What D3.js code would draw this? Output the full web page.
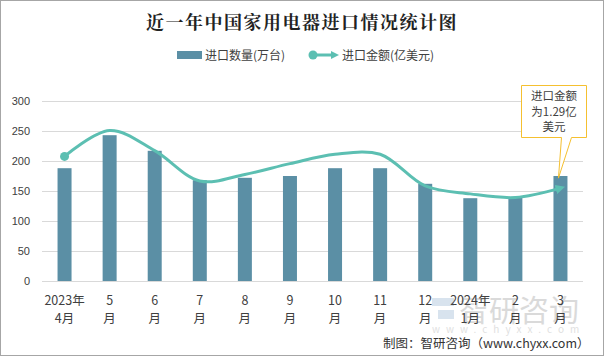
<!DOCTYPE html>
<html><head><meta charset="utf-8">
<script src="https://cdn.jsdelivr.net/npm/d3@7"></script>
<style>
body{margin:0;padding:0;background:#fff;}
svg{display:block;font-family:"Noto Sans CJK SC","Microsoft YaHei",sans-serif;}
</style></head>
<body><svg id="c" width="604" height="356"></svg>
<script>
const categories = ["2023年\n4月","5\n月","6\n月","7\n月","8\n月","9\n月","10\n月","11\n月","12\n月","2024年\n1月","2\n月","3\n月"];
const quantity = [188, 243, 217, 168, 172, 175, 188, 188, 162, 138, 139, 175];   // 进口数量(万台)
const amount = [1.73, 2.09, 1.81, 1.39, 1.48, 1.63, 1.76, 1.76, 1.32, 1.21, 1.16, 1.29]; // 进口金额(亿美元)
const yTicks = [0, 50, 100, 150, 200, 250, 300];

const svg = d3.select("#c");
const W = 604, H = 356;
const m = {left: 42, right: 21, top: 101, bottom: 75};
const barColor = "#5b8fa5", lineColor = "#5cbfb2";

// border
svg.append("rect").attr("x",0.5).attr("y",0.5).attr("width",W-1).attr("height",H-1)
  .attr("fill","none").attr("stroke","#a6a6a6").attr("stroke-width",1);

const x = d3.scaleBand().domain(d3.range(categories.length)).range([m.left, W-m.right]).paddingInner(0).paddingOuter(0);
const y = d3.scaleLinear().domain([0,300]).range([H-m.bottom, m.top]);
const y2 = d3.scaleLinear().domain([0,2.5]).range([H-m.bottom, m.top]);

// grid
svg.append("g").selectAll("line").data(yTicks).join("line")
  .attr("x1", m.left).attr("x2", W-m.right)
  .attr("y1", d=>Math.round(y(d))+0.5).attr("y2", d=>Math.round(y(d))+0.5)
  .attr("stroke","#d9d9d9").attr("stroke-width",1);

// y axis
const yAxis = d3.axisLeft(y).tickValues(yTicks).tickSize(0).tickPadding(12);
const ga = svg.append("g").attr("transform",`translate(${m.left},0)`).call(yAxis);
ga.select(".domain").remove();
ga.selectAll("text").attr("font-size",11).attr("fill","#404040").attr("font-family","Liberation Sans, Arial, sans-serif");

// watermark (behind labels)
const wm = svg.append("g").attr("opacity",0.3);
wm.append("rect").attr("x",432).attr("y",298).attr("width",22).attr("height",8).attr("fill","#7fa6c8");
wm.append("rect").attr("x",438).attr("y",310).attr("width",16).attr("height",9).attr("fill","#7fa6c8");
wm.append("text").attr("x",459).attr("y",321).attr("font-size",30).attr("fill","#888").text("智研咨询");
wm.append("text").attr("x",432).attr("y",333).attr("font-size",10).attr("letter-spacing",6).attr("fill","#999").text("www.chyxx.com");

// bars
const bw = 14;
svg.append("g").selectAll("rect").data(quantity).join("rect")
  .attr("x",(d,i)=>x(i)+x.bandwidth()/2-bw/2).attr("width",bw)
  .attr("y",d=>y(d)).attr("height",d=>y(0)-y(d)).attr("fill",barColor);

// x labels
const xl = svg.append("g").selectAll("text").data(categories).join("text")
  .attr("text-anchor","middle").attr("font-size",12.5).attr("fill","#404040");
xl.each(function(d,i){
  const parts = d.split("\n");
  const t = d3.select(this);
  parts.forEach((p,k)=>{
    t.append("tspan").attr("x", x(i)+x.bandwidth()/2).attr("y", 305 + k*18).text(p);
  });
});

// line
const line = d3.line().x((d,i)=>x(i)+x.bandwidth()/2).y(d=>y2(d)).curve(d3.curveCatmullRom.alpha(0.5));
svg.append("defs").append("marker").attr("id","arr").attr("viewBox","0 0 10 10")
  .attr("refX",5).attr("refY",5).attr("markerWidth",3.2).attr("markerHeight",3.2).attr("orient","auto")
  .append("path").attr("d","M0,0 L10,5 L0,10 z").attr("fill",lineColor);
svg.append("path").datum(amount).attr("d",line).attr("fill","none")
  .attr("stroke",lineColor).attr("stroke-width",3).attr("marker-end","url(#arr)");
svg.append("circle").attr("cx",x(0)+x.bandwidth()/2).attr("cy",y2(amount[0])).attr("r",4.5).attr("fill",lineColor);

// callout
const last = amount.length-1;
const px = x(last)+x.bandwidth()/2, py = y2(amount[last]);
const bx = 521, by = 85, bwid = 65, bh = 52;
const g = svg.append("g");
g.append("path").attr("d",`M${bx+0.5},${by+0.5} H${bx+bwid+0.5} V${by+bh+0.5} H${bx+50.5} L${px-2},${py-10} L${bx+40.5},${by+bh+0.5} H${bx+0.5} Z`)
  .attr("fill","#fff").attr("stroke","#f5c030").attr("stroke-width",1);
["进口金额","为1.29亿","美元"].forEach((t,k)=>{
  g.append("text").attr("x",bx+bwid/2+0.5).attr("y",by+15+k*15.5).attr("text-anchor","middle")
    .attr("font-size",11.5).attr("fill","#404040").text(t);
});

// title
svg.append("text").attr("x",302).attr("y",29).attr("text-anchor","middle")
  .attr("font-size",18).attr("font-weight","bold").attr("letter-spacing",1.5).attr("fill","#222")
  .attr("font-family","Noto Serif CJK SC, Noto Sans CJK SC, serif")
  .text("近一年中国家用电器进口情况统计图");

// legend
svg.append("rect").attr("x",177).attr("y",51).attr("width",25).attr("height",8).attr("fill",barColor);
svg.append("text").attr("x",205).attr("y",60).attr("font-size",12).attr("fill","#404040").text("进口数量(万台)");
svg.append("line").attr("x1",313).attr("x2",333).attr("y1",55).attr("y2",55).attr("stroke",lineColor).attr("stroke-width",3);
svg.append("circle").attr("cx",313).attr("cy",55).attr("r",4.5).attr("fill",lineColor);
svg.append("path").attr("d","M331,51 L339,55 L331,59 Z").attr("fill",lineColor);
svg.append("text").attr("x",342).attr("y",60).attr("font-size",12).attr("fill","#404040").text("进口金额(亿美元)");

// source
svg.append("text").attr("x",383).attr("y",348).attr("font-size",12.5).attr("fill","#333").text("制图：智研咨询（www.chyxx.com）");
</script></body></html>
